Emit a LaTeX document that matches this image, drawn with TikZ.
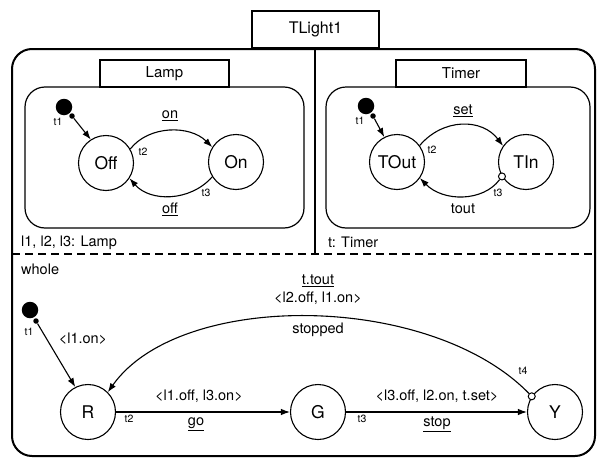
\documentclass[tikz,border=0pt]{standalone}
\usepackage{fontspec}
\setmainfont{TeX Gyre Heros}
\usetikzlibrary{arrows.meta}
\begin{document}
\begin{tikzpicture}[x=1pt,y=-1pt,
  lbl/.style={font=\fontsize{14.5}{17}\selectfont, inner sep=0pt},
  tiny/.style={font=\fontsize{10.5}{12}\selectfont, inner sep=0pt},
  namebox/.style={draw, line width=1.2pt, minimum height=27pt, inner sep=0pt, font=\fontsize{15}{18}\selectfont},
  region/.style={draw, line width=1.2pt, rounded corners=20pt},
  statenode/.style={circle, draw, line width=1.1pt, minimum size=55pt, inner sep=0pt, font=\fontsize{17.5}{20}\selectfont},
  initdot/.style={circle, fill, minimum size=16.5pt, inner sep=0pt},
  bullet/.style={circle, fill, minimum size=5.5pt, inner sep=0pt},
  ring/.style={circle, draw, fill=white, line width=1pt, minimum size=7pt, inner sep=0pt},
  trans/.style={line width=1.1pt, arrows={-Latex[length=9pt,width=6.5pt]}}
]
\useasboundingbox (0,0) rectangle (597,458);

% outer state machine and its title tab
\draw[line width=2pt, rounded corners=20pt] (12,49) rectangle (595,456);
\node[draw, line width=2pt, minimum width=127pt, minimum height=37pt, inner sep=0pt,
      font=\fontsize{16}{19}\selectfont] (title) at (315.5,29.5) {TLight1};
\draw[line width=1.2pt] (315,49) -- (315,254);
\draw[line width=1.2pt, dash pattern=on 8pt off 5pt] (12,254) -- (595,254);

% ---------------- Lamp ----------------
\node[namebox, minimum width=129pt] (lampname) at (164.5,73.5) {Lamp};
\draw[region] (25,87) rectangle (304,228);
\node[initdot] (linit) at (64,107) {};
\node[bullet] (lbul) at (72,116) {};
\node[statenode] (off) at (106,163) {Off};
\node[statenode] (on) at (236,162) {On};
\draw[trans] (lbul) -- (off.123);
\draw[trans] (off.30) .. controls (149,125) and (190,125) .. (on.148);
\draw[trans] (on.212) .. controls (190,202) and (150,202) .. (off.327);
\node[tiny] (lt1) at (58,122) {t1};
\node[tiny] (lt2) at (143,152) {t2};
\node[tiny] (lt3) at (206,193) {t3};
\node[lbl] (lon) at (170,116) {\underline{on}};
\node[lbl] (loff) at (170,209) {\underline{off}};
\node[lbl, anchor=west] (lampvars) at (21,243) {l1, l2, l3: Lamp};

% ---------------- Timer ----------------
\node[namebox, minimum width=130pt] (timername) at (461,73.5) {Timer};
\draw[region] (326,87) rectangle (590,228);
\node[initdot] (tinit) at (366,106) {};
\node[bullet] (tbul) at (373,116) {};
\node[statenode] (tout) at (397,162) {TOut};
\node[statenode] (tin) at (526,162) {TIn};
\draw[trans] (tbul) -- (tout.117);
\draw[trans] (tout.36) .. controls (443,118) and (482,118) .. (tin.145);
\node[ring] (tring) at (tin.211) {};
\draw[trans] (tring) .. controls (483,202) and (443,202) .. (tout.325);
\node[tiny] (tt1) at (360,121) {t1};
\node[tiny] (tt2) at (432,150) {t2};
\node[tiny] (tt3) at (498,193) {t3};
\node[lbl] (tset) at (463,111) {\underline{set}};
\node[lbl] (ttout) at (463,209) {tout};
\node[lbl, anchor=west] (timervars) at (328,242) {t: Timer};

% ---------------- whole ----------------
\node[lbl, anchor=west] (whole) at (21,269) {whole};
\node[initdot] (winit) at (30,310) {};
\node[bullet] (wbul) at (36,321) {};
\node[statenode] (r) at (88,412) {R};
\node[statenode] (g) at (318,412) {G};
\node[statenode] (y) at (555,412) {Y};
\draw[trans] (wbul) -- (r.117);
\draw[trans] (r) -- (g);
\draw[trans] (g) -- (y);
\node[ring] (wring) at (y.146) {};
\draw[trans] (wring) .. controls (430,292) and (180,290) .. (r.45);
\node[tiny] (wt1) at (29,332) {t1};
\node[lbl] (won) at (83,339) {<l1.on>};
\node[tiny] (wt2) at (129,419) {t2};
\node[lbl] (wgoact) at (199,396) {<l1.off, l3.on>};
\node[lbl] (wgo) at (196,424) {\underline{go}};
\node[tiny] (wt3) at (362,419) {t3};
\node[lbl] (wstopact) at (437,396) {<l3.off, l2.on, t.set>};
\node[lbl] (wstop) at (437,424) {\underline{stop}};
\node[tiny] (wt4) at (523,371) {t4};
\node[lbl] (wtrig) at (318,281) {\underline{t.tout}};
\node[lbl] (wstopped) at (318,298) {<l2.off, l1.on>};
\node[lbl] (wname) at (318,330) {stopped};
\end{tikzpicture}
\end{document}
